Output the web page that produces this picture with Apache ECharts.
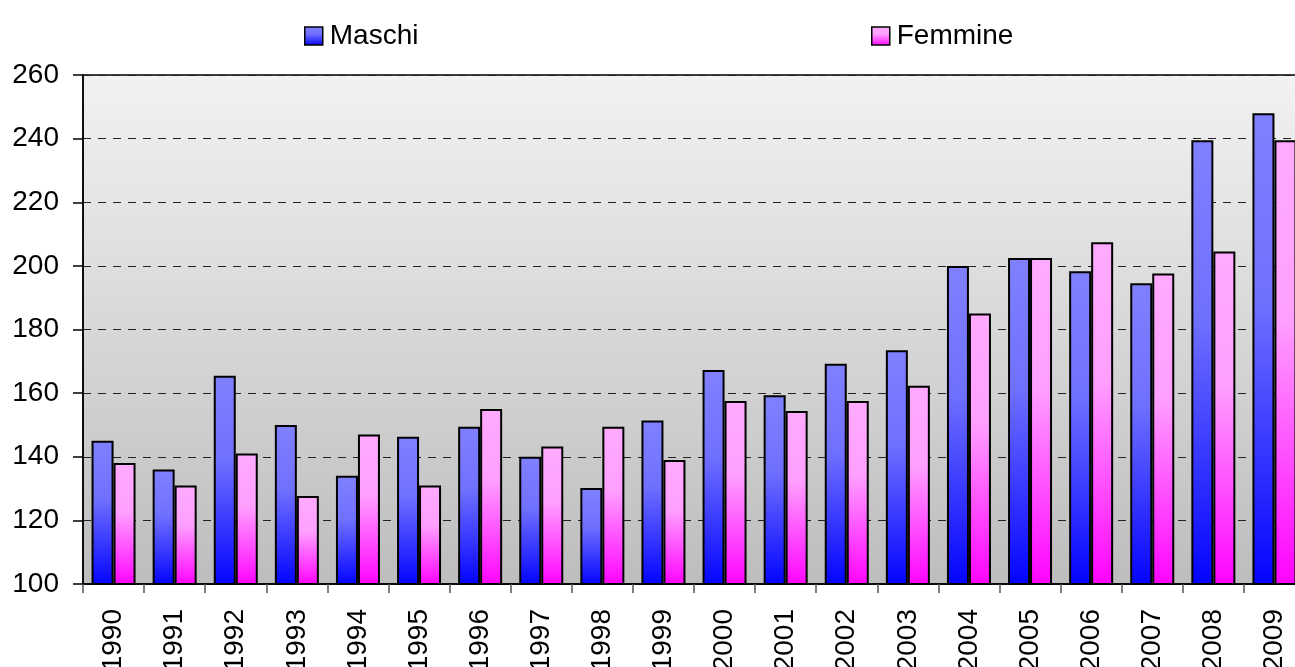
<!DOCTYPE html>
<html>
<head>
<meta charset="utf-8">
<script src="https://cdn.jsdelivr.net/npm/echarts@6/dist/echarts.min.js"></script>
<style>
html,body{margin:0;padding:0;background:#fff;}
#chart{width:1295px;height:667px;}
</style>
</head>
<body>
<div id="chart"></div>
<script>
const years = ['1990','1991','1992','1993','1994','1995','1996','1997','1998','1999','2000','2001','2002','2003','2004','2005','2006','2007','2008','2009'];
const maschi = [145, 136, 165.5, 150, 134, 146.3, 149.4, 140, 130.2, 151.4, 167.3, 159.3, 169.2, 173.5, 200, 202.5, 198.3, 194.5, 239.5, 248];
const femmine = [138, 131, 141, 127.7, 147, 131, 155, 143.2, 149.4, 139, 157.5, 154.4, 157.5, 162.3, 185, 202.5, 207.4, 197.6, 204.5, 239.5];
const yTicks = {min: 100, max: 260, interval: 20};

const chart = echarts.init(document.getElementById('chart'));
const G = echarts.graphic.LinearGradient;
const blueGrad = new G(0,0,0,1,[{offset:0,color:'#8080ff'},{offset:0.4,color:'#7070ff'},{offset:1,color:'#0303ff'}]);
const pinkGrad = new G(0,0,0,1,[{offset:0,color:'#ffaaff'},{offset:0.4,color:'#ffa0ff'},{offset:1,color:'#ff03ff'}]);
const font = 'Liberation Sans, Arial, sans-serif';

chart.setOption({
  animation: false,
  textStyle: {fontFamily: font},
  legend: [
    {data: [{name: 'Maschi', icon: 'rect'}], left: 299, top: 17, itemWidth: 18, itemHeight: 18, itemGap: 0,
     itemStyle: {borderColor: '#000', borderWidth: 1.5},
     textStyle: {fontSize: 28, color: '#000', fontFamily: font, padding: [0,0,0,2]}},
    {data: [{name: 'Femmine', icon: 'rect'}], left: 866, top: 17, itemWidth: 18, itemHeight: 18, itemGap: 0,
     itemStyle: {borderColor: '#000', borderWidth: 1.5},
     textStyle: {fontSize: 28, color: '#000', fontFamily: font, padding: [0,0,0,2]}}
  ],
  grid: {
    left: 83, top: 75, width: 1222, height: 509,
    containLabel: false,
    outerBoundsMode: 'none',
    show: true,
    borderColor: '#000', borderWidth: 1.5,
    backgroundColor: new G(0,0,0,1,[{offset:0,color:'#f2f2f2'},{offset:1,color:'#bdbdbd'}])
  },
  xAxis: {
    type: 'category',
    data: years,
    axisLine: {lineStyle: {color: '#000', width: 1.5}},
    axisTick: {show: true, length: 9, lineStyle: {color: '#555', width: 1.5}},
    axisLabel: {rotate: 90, fontSize: 28, color: '#000', margin: 25, fontFamily: font}
  },
  yAxis: {
    type: 'value',
    min: yTicks.min, max: yTicks.max, interval: yTicks.interval,
    axisLine: {show: true, lineStyle: {color: '#000', width: 1.5}},
    axisTick: {show: true, length: 10, lineStyle: {color: '#000', width: 1.5}},
    axisLabel: {fontSize: 28, color: '#000', margin: 24, fontFamily: font},
    splitLine: {show: true, lineStyle: {color: '#222', width: 1, type: [8, 7]}}
  },
  series: [
    {name: 'Maschi', type: 'bar', data: maschi, barWidth: 22, barGap: '0%',
     itemStyle: {color: blueGrad, borderColor: '#000', borderWidth: 2}},
    {name: 'Femmine', type: 'bar', data: femmine, barWidth: 22, barGap: '0%',
     itemStyle: {color: pinkGrad, borderColor: '#000', borderWidth: 2}}
  ]
});
</script>
</body>
</html>
